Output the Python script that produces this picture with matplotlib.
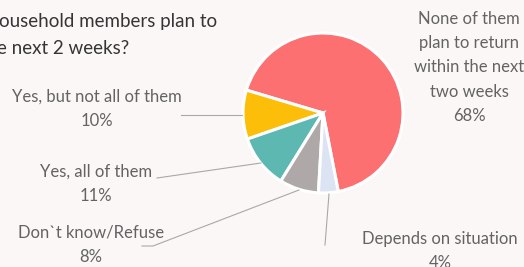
#!/usr/bin/env python3

import matplotlib
matplotlib.use('Agg')
import matplotlib.pyplot as plt

W, H = 524, 267

# slice data, counterclockwise from the start angle
labels = ['None of them\nplan to return\nwithin the next\ntwo weeks',
          'Yes, but not all of them',
          'Yes, all of them',
          'Don`t know/Refuse',
          'Depends on situation']
values = [68, 10, 11, 8, 4]
colors = ['#FD7072', '#FDBE0A', '#5CB8B1', '#AEA9A8', '#DCE3F3']

title_lines = ['ousehold members plan to', 'e next 2 weeks?']

BG = '#FCF7F7'
TEXT = '#636363'
LINE = '#A8A8A8'

plt.rcParams['font.family'] = ['Lato', 'DejaVu Sans']

fig = plt.figure(figsize=(W / 100, H / 100), dpi=100, facecolor=BG)
ax = fig.add_axes([0, 0, 1, 1])
ax.set_facecolor(BG)
ax.axis('off')

# pie in pixel coordinates (y axis flipped, so go clockwise for math ccw)
ax.pie(values, colors=colors, center=(323, 113), radius=80,
       startangle=79, counterclock=False,
       wedgeprops=dict(edgecolor='white', linewidth=2.2))
ax.set_xlim(0, W)
ax.set_ylim(H, 0)
ax.set_aspect('equal')

# title (clipped at left edge like the reference)
ax.text(-1, 22, title_lines[0], fontsize=13.5, color='#353535',
        ha='left', va='center')
ax.text(-3, 48, title_lines[1], fontsize=13.5, color='#353535',
        ha='left', va='center')

# data labels
label_pos = [(469, 67.5), (97, 109), (96, 184), (91, 245), (440, 251)]
for lab, val, (x, y) in zip(labels, values, label_pos):
    ax.text(x, y, '{}\n{}%'.format(lab, val), fontsize=12, color=TEXT,
            ha='center', va='center', linespacing=1.65)

# leader lines
ax.plot([181, 242], [115, 115], color=LINE, lw=0.8)
ax.plot([157, 261], [178, 163], color=LINE, lw=0.8)
ax.plot([142, 153, 299], [246, 246, 190], color=LINE, lw=0.8)
ax.plot([325, 329], [245, 194], color=LINE, lw=0.8)

fig.savefig('out.png', dpi=100, facecolor=BG)
